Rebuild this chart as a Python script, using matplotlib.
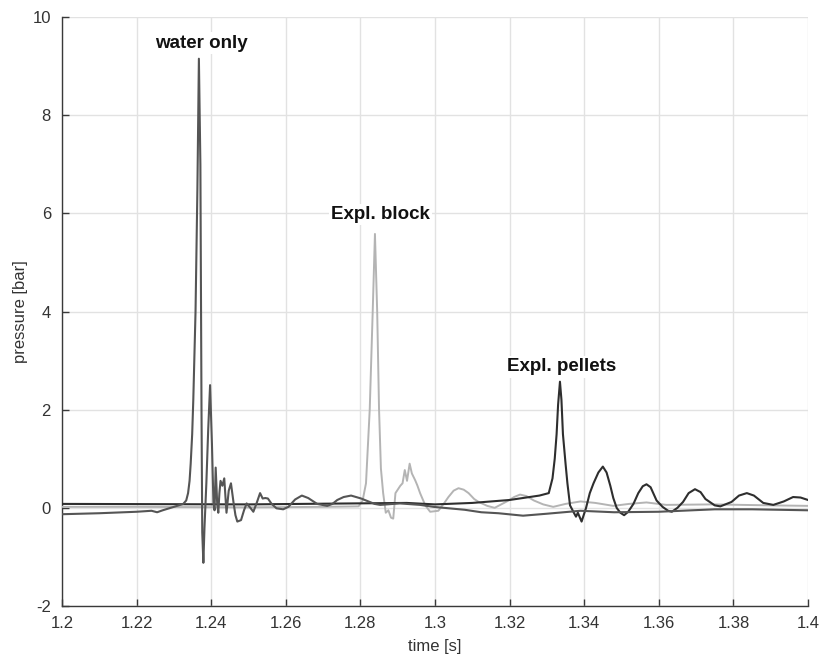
import matplotlib
matplotlib.use("Agg")
import matplotlib.pyplot as plt

plt.rcParams['font.family'] = ['Liberation Sans', 'DejaVu Sans']
plt.rcParams['axes.unicode_minus'] = False

# ---- data ----
water_t = [1.2000, 1.2100, 1.2200, 1.2240, 1.2255, 1.2270, 1.2300, 1.2325, 1.2333, 1.2338,
           1.2342, 1.2345, 1.2349, 1.2352, 1.2358, 1.2363, 1.2367, 1.2371, 1.2374, 1.2376,
           1.2379, 1.2382, 1.2387, 1.2392, 1.2397, 1.2402, 1.2406, 1.2409, 1.2412, 1.2416,
           1.2419, 1.2422, 1.2425, 1.2430, 1.2435, 1.2441, 1.2447, 1.2453, 1.2460, 1.2465,
           1.2470, 1.2480, 1.2488, 1.2495, 1.2505, 1.2513, 1.2522, 1.2531, 1.2538, 1.2545,
           1.2552, 1.2562, 1.2575, 1.2593, 1.2607, 1.2625, 1.2643, 1.2660, 1.2684, 1.2711,
           1.2725, 1.2738, 1.2755, 1.2775, 1.2802, 1.2838, 1.2853, 1.2906, 1.2960, 1.2996,
           1.3080, 1.3124, 1.3170, 1.3236, 1.3300, 1.3390, 1.3480, 1.3600, 1.3750, 1.3850,
           1.4000]
water_p = [-0.13, -0.11, -0.08, -0.06, -0.09, -0.05, 0.02, 0.08, 0.15, 0.30,
           0.55, 0.90, 1.50, 2.20, 4.00, 6.50, 9.15, 7.00, 2.00, -0.50,
           -1.12, -0.40, 0.50, 1.60, 2.50, 1.30, 0.10, -0.05, 0.82, 0.10,
           -0.10, 0.30, 0.55, 0.45, 0.60, -0.10, 0.35, 0.50, 0.10, -0.15,
           -0.28, -0.25, -0.05, 0.09, 0.00, -0.08, 0.10, 0.30, 0.19, 0.20,
           0.19, 0.08, -0.01, -0.03, 0.02, 0.17, 0.25, 0.20, 0.08, 0.04,
           0.08, 0.16, 0.22, 0.25, 0.19, 0.08, 0.06, 0.09, 0.06, 0.02,
           -0.04, -0.09, -0.11, -0.16, -0.12, -0.06, -0.09, -0.08, -0.03, -0.03,
           -0.05]

block_t = [1.2000, 1.2200, 1.2500, 1.2700, 1.2795, 1.2806, 1.2815, 1.2825, 1.2833, 1.2839,
           1.2845, 1.2850, 1.2855, 1.2861, 1.2868, 1.2875, 1.2882, 1.2888, 1.2894, 1.2907,
           1.2913, 1.2919, 1.2925, 1.2932, 1.2938, 1.2947, 1.2953, 1.2960, 1.2974, 1.2987,
           1.3009, 1.3025, 1.3036, 1.3050, 1.3063, 1.3077, 1.3090, 1.3105, 1.3117, 1.3140,
           1.3160, 1.3195, 1.3212, 1.3228, 1.3245, 1.3265, 1.3290, 1.3317, 1.3350, 1.3390,
           1.3430, 1.3478, 1.3520, 1.3567, 1.3620, 1.3746, 1.3900, 1.4000]
block_p = [0.02, 0.02, 0.01, 0.02, 0.03, 0.15, 0.50, 2.00, 4.00, 5.58,
           4.00, 2.00, 0.80, 0.30, -0.10, -0.05, -0.20, -0.22, 0.30, 0.45,
           0.50, 0.77, 0.55, 0.90, 0.70, 0.56, 0.45, 0.30, 0.05, -0.08,
           -0.06, 0.10, 0.22, 0.35, 0.40, 0.37, 0.30, 0.18, 0.12, 0.04,
           0.00, 0.14, 0.22, 0.27, 0.24, 0.15, 0.07, 0.02, 0.08, 0.13,
           0.10, 0.04, 0.08, 0.11, 0.06, 0.07, 0.05, 0.04]

pellet_t = [1.2000, 1.2500, 1.2924, 1.3000, 1.3100, 1.3200, 1.3280, 1.3305, 1.3315, 1.3321,
            1.3326, 1.3330, 1.3335, 1.3339, 1.3343, 1.3350, 1.3355, 1.3362, 1.3373, 1.3378,
            1.3383, 1.3393, 1.3405, 1.3415, 1.3425, 1.3438, 1.3450, 1.3460, 1.3470, 1.3478,
            1.3487, 1.3497, 1.3507, 1.3518, 1.3532, 1.3545, 1.3557, 1.3567, 1.3578, 1.3594,
            1.3610, 1.3625, 1.3635, 1.3650, 1.3665, 1.3680, 1.3697, 1.3712, 1.3725, 1.3750,
            1.3765, 1.3795, 1.3815, 1.3836, 1.3855, 1.3880, 1.3907, 1.3935, 1.3960, 1.3980,
            1.4000]
pellet_p = [0.08, 0.07, 0.10, 0.07, 0.10, 0.16, 0.25, 0.30, 0.60, 1.00,
            1.50, 2.10, 2.57, 2.20, 1.50, 0.90, 0.50, 0.05, -0.11, -0.18,
            -0.10, -0.28, 0.00, 0.30, 0.50, 0.72, 0.84, 0.72, 0.45, 0.20,
            0.00, -0.10, -0.15, -0.08, 0.08, 0.30, 0.44, 0.48, 0.42, 0.15,
            0.02, -0.06, -0.08, 0.00, 0.12, 0.30, 0.38, 0.32, 0.18, 0.05,
            0.03, 0.12, 0.25, 0.30, 0.25, 0.10, 0.06, 0.13, 0.22, 0.21,
            0.16]

labels = ["water only", "Expl. block", "Expl. pellets"]
label_t = [1.2373, 1.2855, 1.3340]
label_p = [9.47, 5.98, 2.87]

x_ticks = [1.2, 1.22, 1.24, 1.26, 1.28, 1.3, 1.32, 1.34, 1.36, 1.38, 1.4]
x_ticklabels = ["1.2", "1.22", "1.24", "1.26", "1.28", "1.3", "1.32", "1.34", "1.36", "1.38", "1.4"]
y_ticks = [-2, 0, 2, 4, 6, 8, 10]

# ---- figure ----
fig = plt.figure(figsize=(8.21, 6.60), dpi=100)
ax = fig.add_axes([62/821, 54/660, 746/821, 589/660])

ax.plot(block_t, block_p, color="#b4b4b4", lw=1.4, zorder=3)
ax.plot(pellet_t, pellet_p, color="#2e2e2e", lw=1.5, zorder=4)
ax.plot(water_t, water_p, color="#555555", lw=1.5, zorder=5)

for s, t, p in zip(labels, label_t, label_p):
    ax.text(t, p, s, ha="center", va="center", fontsize=13.5, fontweight="bold",
            color="#111111", zorder=6,
            bbox=dict(facecolor="white", edgecolor="none", pad=1.5))

ax.set_xlim(1.2, 1.4)
ax.set_ylim(-2, 10)
ax.set_xticks(x_ticks)
ax.set_xticklabels(x_ticklabels)
ax.set_yticks(y_ticks)
ax.grid(True, color="#e2e2e2", lw=1.0)
ax.set_axisbelow(True)

for side in ["top", "right"]:
    ax.spines[side].set_visible(False)
for side in ["left", "bottom"]:
    ax.spines[side].set_color("#3a3a3a")
    ax.spines[side].set_linewidth(1.0)

ax.tick_params(direction="in", length=5, width=1.0, colors="#3a3a3a",
               labelsize=12, labelcolor="#333333")
ax.tick_params(axis="x", pad=7)
ax.tick_params(axis="y", pad=8)
ax.set_xlabel("time [s]", fontsize=12, color="#333333", labelpad=6)
ax.set_ylabel("pressure [bar]", fontsize=12, color="#333333", labelpad=3)

fig.savefig("out.png", dpi=100)
